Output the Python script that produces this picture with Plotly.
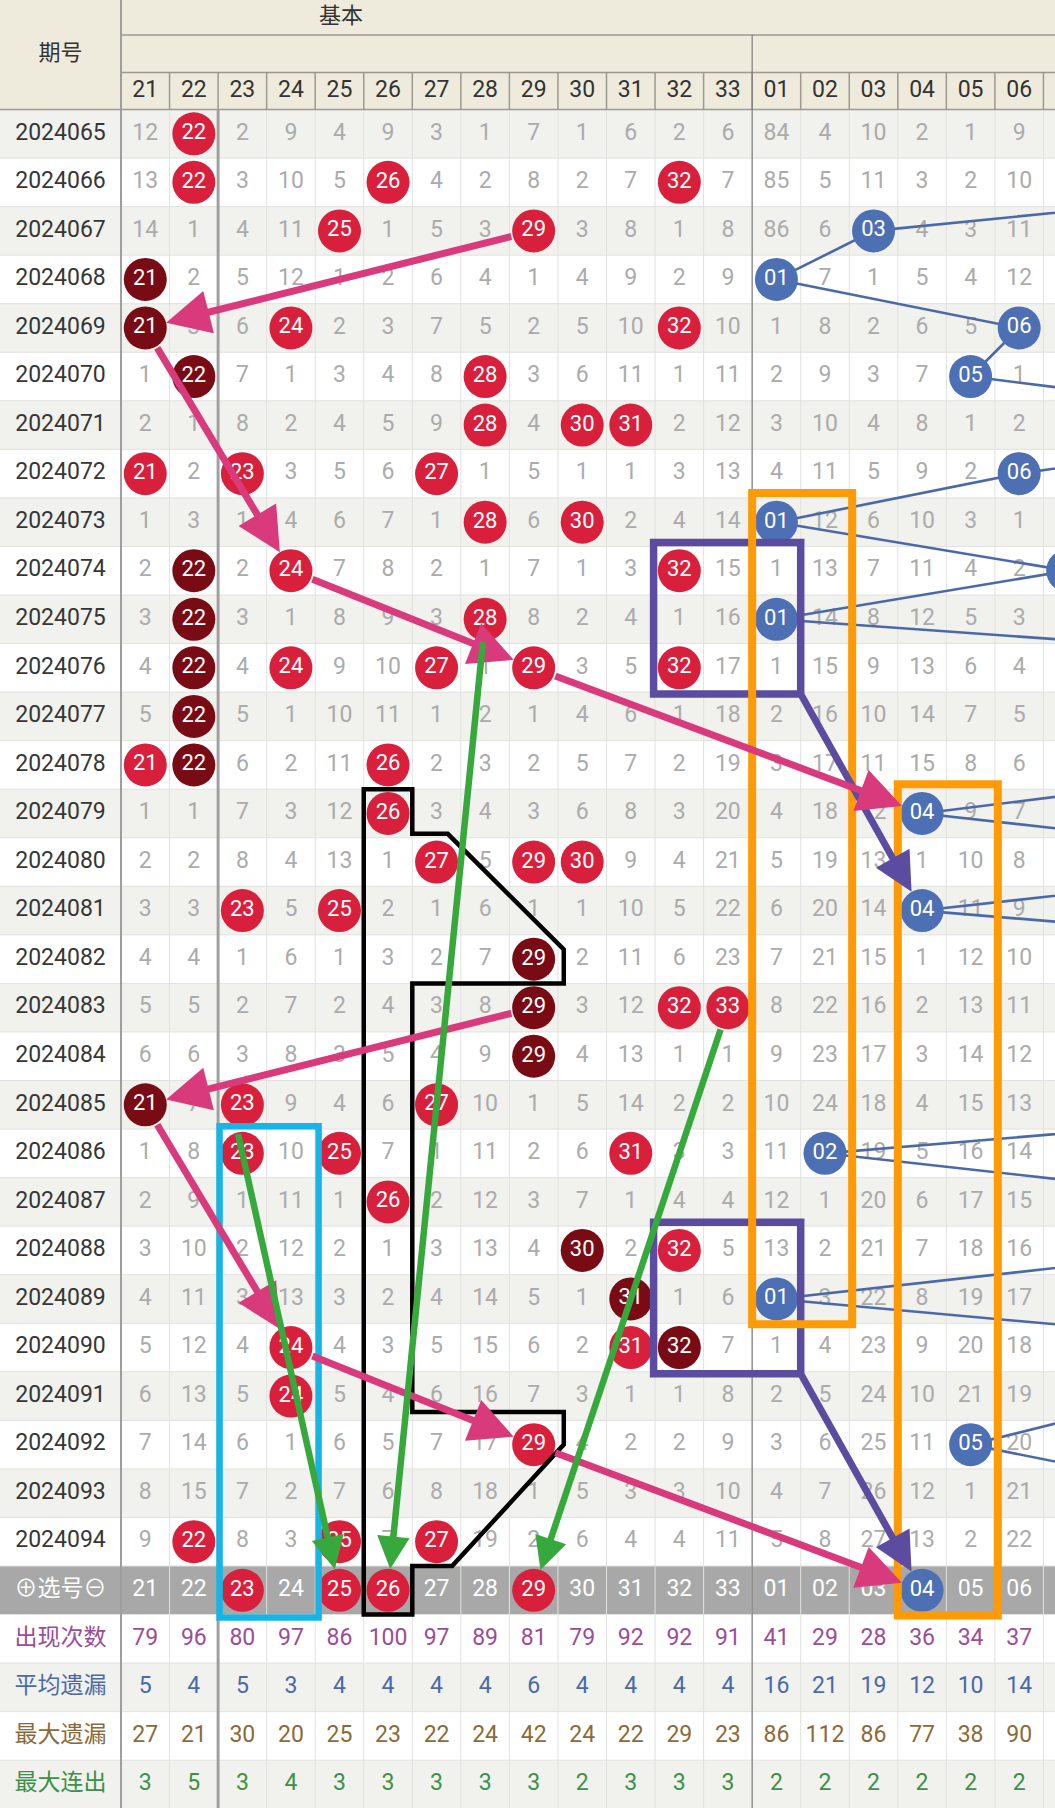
import plotly.graph_objects as go

# ------------------------------------------------------------------ data
periods = ["2024065", "2024066", "2024067", "2024068", "2024069", "2024070", "2024071", "2024072",
           "2024073", "2024074", "2024075", "2024076", "2024077", "2024078", "2024079", "2024080",
           "2024081", "2024082", "2024083", "2024084", "2024085", "2024086", "2024087", "2024088",
           "2024089", "2024090", "2024091", "2024092", "2024093", "2024094"]
red_labels = ["21", "22", "23", "24", "25", "26", "27", "28", "29", "30", "31", "32", "33"]
blue_labels = ["01", "02", "03", "04", "05", "06", "07"]   # 07 only shows as a sliver at the right edge
N_VISIBLE_COLS = 19

# miss counts per period (None = drawn ball)
miss = [
    [12, None, 2, 9, 4, 9, 3, 1, 7, 1, 6, 2, 6, 84, 4, 10, 2, 1, 9],
    [13, None, 3, 10, 5, None, 4, 2, 8, 2, 7, None, 7, 85, 5, 11, 3, 2, 10],
    [14, 1, 4, 11, None, 1, 5, 3, None, 3, 8, 1, 8, 86, 6, None, 4, 3, 11],
    [None, 2, 5, 12, 1, 2, 6, 4, 1, 4, 9, 2, 9, None, 7, 1, 5, 4, 12],
    [None, 3, 6, None, 2, 3, 7, 5, 2, 5, 10, None, 10, 1, 8, 2, 6, 5, None],
    [1, None, 7, 1, 3, 4, 8, None, 3, 6, 11, 1, 11, 2, 9, 3, 7, None, 1],
    [2, 1, 8, 2, 4, 5, 9, None, 4, None, None, 2, 12, 3, 10, 4, 8, 1, 2],
    [None, 2, None, 3, 5, 6, None, 1, 5, 1, 1, 3, 13, 4, 11, 5, 9, 2, None],
    [1, 3, 1, 4, 6, 7, 1, None, 6, None, 2, 4, 14, None, 12, 6, 10, 3, 1],
    [2, None, 2, None, 7, 8, 2, 1, 7, 1, 3, None, 15, 1, 13, 7, 11, 4, 2],
    [3, None, 3, 1, 8, 9, 3, None, 8, 2, 4, 1, 16, None, 14, 8, 12, 5, 3],
    [4, None, 4, None, 9, 10, None, 1, None, 3, 5, None, 17, 1, 15, 9, 13, 6, 4],
    [5, None, 5, 1, 10, 11, 1, 2, 1, 4, 6, 1, 18, 2, 16, 10, 14, 7, 5],
    [None, None, 6, 2, 11, None, 2, 3, 2, 5, 7, 2, 19, 3, 17, 11, 15, 8, 6],
    [1, 1, 7, 3, 12, None, 3, 4, 3, 6, 8, 3, 20, 4, 18, 12, None, 9, 7],
    [2, 2, 8, 4, 13, 1, None, 5, None, None, 9, 4, 21, 5, 19, 13, 1, 10, 8],
    [3, 3, None, 5, None, 2, 1, 6, 1, 1, 10, 5, 22, 6, 20, 14, None, 11, 9],
    [4, 4, 1, 6, 1, 3, 2, 7, None, 2, 11, 6, 23, 7, 21, 15, 1, 12, 10],
    [5, 5, 2, 7, 2, 4, 3, 8, None, 3, 12, None, None, 8, 22, 16, 2, 13, 11],
    [6, 6, 3, 8, 3, 5, 4, 9, None, 4, 13, 1, 1, 9, 23, 17, 3, 14, 12],
    [None, 7, None, 9, 4, 6, None, 10, 1, 5, 14, 2, 2, 10, 24, 18, 4, 15, 13],
    [1, 8, None, 10, None, 7, 1, 11, 2, 6, None, 3, 3, 11, None, 19, 5, 16, 14],
    [2, 9, 1, 11, 1, None, 2, 12, 3, 7, 1, 4, 4, 12, 1, 20, 6, 17, 15],
    [3, 10, 2, 12, 2, 1, 3, 13, 4, None, 2, None, 5, 13, 2, 21, 7, 18, 16],
    [4, 11, 3, 13, 3, 2, 4, 14, 5, 1, None, 1, 6, None, 3, 22, 8, 19, 17],
    [5, 12, 4, None, 4, 3, 5, 15, 6, 2, None, None, 7, 1, 4, 23, 9, 20, 18],
    [6, 13, 5, None, 5, 4, 6, 16, 7, 3, 1, 1, 8, 2, 5, 24, 10, 21, 19],
    [7, 14, 6, 1, 6, 5, 7, 17, None, 4, 2, 2, 9, 3, 6, 25, 11, None, 20],
    [8, 15, 7, 2, 7, 6, 8, 18, 1, 5, 3, 3, 10, 4, 7, 26, 12, 1, 21],
    [9, None, 8, 3, None, 7, None, 19, 2, 6, 4, 4, 11, 5, 8, 27, 13, 2, 22],
]

red_hits = [["22"], ["22", "26", "32"], ["25", "29"], [], ["24", "32"], ["28"], ["28", "30", "31"],
            ["21", "23", "27"], ["28", "30"], ["24", "32"], ["28"], ["24", "27", "29", "32"], [],
            ["21", "26"], ["26"], ["27", "29", "30"], ["23", "25"], [], ["32", "33"], [],
            ["23", "27"], ["23", "25", "31"], ["26"], ["32"], [], ["24", "31"], ["24"], ["29"], [],
            ["22", "25", "27"]]
dark_hits = [[], [], [], ["21"], ["21"], ["22"], [], [], [], ["22"], ["22"], ["22"], ["22"], ["22"],
             [], [], [], ["29"], ["29"], ["29"], ["21"], [], [], ["30"], ["31"], ["32"], [], [], [], []]
# blue ball per period (values above 06 lie beyond the visible right edge; estimated from line slopes)
blue_hits = [9, 13, 3, 1, 6, 5, 13, 6, 1, 7, 1, 15, 10, 12, 4, 13, 4, 16, 11, 8, 14, 2, 11, 10, 1,
             12, 9, 5, 10, 8]

sel_label = "⊕选号⊖"
sel_red = ["23", "25", "26", "29"]
sel_blue = ["04"]

stat_names = ["出现次数", "平均遗漏", "最大遗漏", "最大连出"]
appear = [79, 96, 80, 97, 86, 100, 97, 89, 81, 79, 92, 92, 91, 41, 29, 28, 36, 34, 37]
avg_miss = [5, 4, 5, 3, 4, 4, 4, 4, 6, 4, 4, 4, 4, 16, 21, 19, 12, 10, 14]
max_miss = [27, 21, 30, 20, 25, 23, 22, 24, 42, 24, 22, 29, 23, 86, 112, 86, 77, 38, 90]
max_run = [3, 5, 3, 4, 3, 3, 3, 3, 3, 2, 3, 3, 3, 2, 2, 2, 2, 2, 2]
stat_values = [appear, avg_miss, max_miss, max_run]

# hand-drawn overlays, anchored on (column, period) cells
pink_chains = [[("29", "2024067"), ("21", "2024069"), ("24", "2024074"), ("29", "2024076"), ("04", "2024079")],
               [("29", "2024083"), ("21", "2024085"), ("24", "2024090"), ("29", "2024092"), ("04", "选号")]]
green_arrows = [(("28", "2024075"), ("26", "选号"), 1),
                (("23", "2024086"), ("25", "选号"), -1),
                (("33", "2024083"), ("29", "选号"), 1)]
purple_boxes = [(("32", "2024074"), ("01", "2024076"), ("04", "2024081")),
                (("32", "2024088"), ("01", "2024090"), ("04", "选号"))]
orange_boxes = [(("01", "2024073"), ("02", "2024089")), (("04", "2024079"), ("05", "选号"))]
cyan_boxes = [(("23", "2024086"), ("24", "选号"))]

# ------------------------------------------------------------------ geometry
W, H = 1055, 1808
CELL = 48.55
LEFT_W = 121.0
HEAD_H = 109.5
HEAD_R1 = 35.0
HEAD_R2 = 72.6


def gx(px):
    return (px - LEFT_W) / CELL - 0.5


def gy(py):
    return (py - HEAD_H) / CELL - 0.5


X0, X1 = gx(0), gx(W)
Y0, Y1 = gy(0), gy(H)
col_labels = red_labels + blue_labels
NP = len(periods)
SEL = NP
NROWS = NP + 1 + len(stat_names)
LEFT_C = gx(LEFT_W / 2)
R_BALL = 21.5 / CELL


def ci(lbl):
    return col_labels.index(lbl)


def ri(p):
    return SEL if p == "选号" else periods.index(p)


RED = "#d8203c"
DARK = "#780b13"
BLUE = "#4d6fb3"
BLUE_LINE = "#4b69a9"
PINK = "#d83a7c"
GREEN = "#36a83c"
ORANGE = "#fe9a05"
CYAN = "#17b4e6"
PURPLE = "#5b4c9f"
STRIPE = "#f1f1ed"
HEADER_BG = "#eeebdd"
GRID = "#e1e1df"
HEAD_LINE = "#9b9990"
MISS_C = "#ababab"
STAT_COLORS = ["#9a4d99", "#4a69aa", "#8b6a3a", "#3c9146"]
FONT = "Roboto, 'Noto Sans CJK SC', 'DejaVu Sans', sans-serif"

fig = go.Figure()
shapes = []


def rect(x0, y0, x1, y1, fill, layer="below"):
    shapes.append(dict(type="rect", xref="x", yref="y", x0=x0, y0=y0, x1=x1, y1=y1,
                       fillcolor=fill, line=dict(width=0), layer=layer))


def line(x0, y0, x1, y1, color, width, layer="below"):
    shapes.append(dict(type="line", xref="x", yref="y", x0=x0, y0=y0, x1=x1, y1=y1,
                       line=dict(color=color, width=width), layer=layer))


# backgrounds
rect(X0, Y0, X1, -0.5, HEADER_BG)
for r in range(NROWS):
    if r == SEL:
        rect(X0, r - 0.5, X1, r + 0.5, "#a8a8a8")
    elif r % 2 == 0:
        rect(X0, r - 0.5, X1, r + 0.5, STRIPE)
# grid lines
for r in range(NROWS):
    line(X0, r + 0.5, X1, r + 0.5, GRID, 1)
for c in range(len(col_labels)):
    line(c + 0.5, -0.5, c + 0.5, Y1, GRID, 1)
for c in range(-1, len(col_labels)):
    line(c + 0.5, gy(HEAD_R2), c + 0.5, -0.5, HEAD_LINE, 1.5)
# header lines
line(-0.5, gy(HEAD_R1), X1, gy(HEAD_R1), HEAD_LINE, 1.5)
line(-0.5, gy(HEAD_R2), X1, gy(HEAD_R2), HEAD_LINE, 1.5)
line(X0, -0.5, X1, -0.5, HEAD_LINE, 1.5)
# separators
line(-0.5, Y0, -0.5, Y1, "#9e9e9e", 2)
line(1.5, -0.5, 1.5, Y1, "#a0a0a0", 3)
line(len(red_labels) - 0.5, gy(HEAD_R1), len(red_labels) - 0.5, Y1, "#7d7d7d", 1.2)

# ------------------------------------------------------------------ text traces
mx, my, mt = [], [], []
for r, row in enumerate(miss):
    for c, v in enumerate(row):
        if v is not None:
            mx.append(c); my.append(r); mt.append(str(v))
fig.add_trace(go.Scatter(x=mx, y=my, text=mt, mode="text", hoverinfo="skip",
                         textfont=dict(family=FONT, size=23, color=MISS_C)))

# period labels
fig.add_trace(go.Scatter(x=[LEFT_C] * NP, y=list(range(NP)), text=periods, mode="text", hoverinfo="skip",
                         textfont=dict(family=FONT, size=23, color="#363636")))
# header
vis = col_labels[:N_VISIBLE_COLS]
fig.add_trace(go.Scatter(x=list(range(len(vis))), y=[gy((HEAD_R2 + HEAD_H) / 2)] * len(vis), text=vis,
                         mode="text", hoverinfo="skip", textfont=dict(family=FONT, size=23, color="#333333")))
fig.add_trace(go.Scatter(x=[LEFT_C, gx(341)], y=[gy(54), gy(17.5)], text=["期号", "基本"], mode="text",
                         hoverinfo="skip", textfont=dict(family=FONT, size=22, color="#333333")))
# selection row
plain = [l for l in vis if l not in sel_red + sel_blue]
fig.add_trace(go.Scatter(x=[LEFT_C] + [ci(l) for l in plain], y=[SEL] * (len(plain) + 1),
                         text=[sel_label] + plain, mode="text", hoverinfo="skip",
                         textfont=dict(family=FONT, size=23, color="white")))
# stats rows
for k, (name, vals) in enumerate(zip(stat_names, stat_values)):
    r = SEL + 1 + k
    fig.add_trace(go.Scatter(x=[LEFT_C] + list(range(len(vals))), y=[r] * (len(vals) + 1),
                             text=[name] + [str(v) for v in vals], mode="text", hoverinfo="skip",
                             textfont=dict(family=FONT, size=23, color=STAT_COLORS[k])))

# blue connecting line
bx = [len(red_labels) + v - 1 for v in blue_hits]
by = list(range(NP))
fig.add_trace(go.Scatter(x=bx, y=by, mode="lines", hoverinfo="skip",
                         line=dict(color=BLUE_LINE, width=2.6)))


def balls(xs, ys, labels, color):
    fig.add_trace(go.Scatter(x=xs, y=ys, text=labels, mode="markers+text", hoverinfo="skip",
                             marker=dict(size=43, color=color, line=dict(width=0)),
                             textfont=dict(family=FONT, size=22, color="white")))


rx, ry, rt = [], [], []
for r, hs in enumerate(red_hits):
    for h in hs:
        rx.append(ci(h)); ry.append(r); rt.append(h)
for h in sel_red:
    rx.append(ci(h)); ry.append(SEL); rt.append(h)
balls(rx, ry, rt, RED)
dx_, dy_, dt_ = [], [], []
for r, hs in enumerate(dark_hits):
    for h in hs:
        dx_.append(ci(h)); dy_.append(r); dt_.append(h)
balls(dx_, dy_, dt_, DARK)
balls(bx + [ci(l) for l in sel_blue], by + [SEL] * len(sel_blue),
      ["%02d" % v for v in blue_hits] + sel_blue, BLUE)

# ------------------------------------------------------------------ overlays
def box(a, b, color, width, pad=(0, 0, 0, 0)):
    x0, y0 = ci(a[0]) - 0.5 - pad[0], ri(a[1]) - 0.5 - pad[1]
    x1, y1 = ci(b[0]) + 0.5 + pad[2], ri(b[1]) + 0.5 + pad[3]
    shapes.append(dict(type="rect", xref="x", yref="y", x0=x0, y0=y0, x1=x1, y1=y1,
                       line=dict(color=color, width=width), fillcolor="rgba(0,0,0,0)", layer="above"))
    return x1, y1


for a, b in cyan_boxes:
    box(a, b, CYAN, 6.5, pad=(-0.03, 0.06, 0.07, 0.06))

# black stepped outline
c26, c27, c29 = ci("26"), ci("27"), ci("29")
r79, r82, r91, r92 = ri("2024079"), ri("2024082"), ri("2024091"), ri("2024092")
pts = [(c26 - 0.5, r79 - 0.5), (c26 + 0.5, r79 - 0.5), (c26 + 0.5, r79 + 0.42), (c27 + 0.23, r79 + 0.42),
       (c29 + 0.62, r82 - 0.2), (c29 + 0.62, r82 + 0.5), (c26 + 0.5, r82 + 0.5), (c26 + 0.5, r91 + 0.33),
       (c29 + 0.62, r91 + 0.33), (c29 + 0.62, r92), (c27 + 0.32, SEL - 0.5), (c26 + 0.5, SEL - 0.5),
       (c26 + 0.5, SEL + 0.5), (c26 - 0.5, SEL + 0.5)]
path = "M " + " L ".join("%.4f,%.4f" % p for p in pts) + " Z"
shapes.append(dict(type="path", xref="x", yref="y", path=path, line=dict(color="black", width=4.5),
                   fillcolor="rgba(0,0,0,0)", layer="above"))

purple_corners = []
for a, b, target in purple_boxes:
    corner = box(a, b, PURPLE, 7.5, pad=(0.03, 0.08, 0.0, 0.04))
    purple_corners.append((corner, target))
for a, b in orange_boxes:
    box(a, b, ORANGE, 8, pad=(0.0, 0.1, 0.06, 0.02))


def arrow(tail, tip, color, width, size):
    fig.add_annotation(x=tip[0], y=tip[1], ax=tail[0], ay=tail[1], xref="x", yref="y", axref="x",
                       ayref="y", text="", showarrow=True, arrowhead=2, arrowsize=size,
                       arrowwidth=width, arrowcolor=color, standoff=0, startstandoff=0)


def ball_arrow(src, dst, side, color, width, size):
    x0, y0 = ci(src[0]), ri(src[1])
    x1, y1 = ci(dst[0]), ri(dst[1])
    L = ((x1 - x0) ** 2 + (y1 - y0) ** 2) ** 0.5
    ux, uy = (x1 - x0) / L, (y1 - y0) / L
    arrow((x0 + side * R_BALL * ux, y0 + side * R_BALL * uy), (x1 - R_BALL * ux, y1 - R_BALL * uy),
          color, width, size)


for corner, target in purple_corners:
    x1, y1 = ci(target[0]), ri(target[1])
    L = ((x1 - corner[0]) ** 2 + (y1 - corner[1]) ** 2) ** 0.5
    ux, uy = (x1 - corner[0]) / L, (y1 - corner[1]) / L
    arrow(corner, (x1 - R_BALL * ux, y1 - R_BALL * uy), PURPLE, 7, 1.1)

for chain in pink_chains:
    for s, d in zip(chain[:-1], chain[1:]):
        ball_arrow(s, d, 1, PINK, 7, 1.25)
for s, d, side in green_arrows:
    ball_arrow(s, d, side, GREEN, 6.5, 1.0)

fig.update_layout(
    width=W, height=H, margin=dict(l=0, r=0, t=0, b=0),
    paper_bgcolor="white", plot_bgcolor="white", showlegend=False,
    shapes=shapes,
    xaxis=dict(range=[X0, X1], visible=False, fixedrange=True),
    yaxis=dict(range=[Y1, Y0], visible=False, fixedrange=True),
)
fig.write_html("out.html", config={"displayModeBar": False},
               post_script="document.body.style.margin='0';document.body.style.overflow='hidden';")
